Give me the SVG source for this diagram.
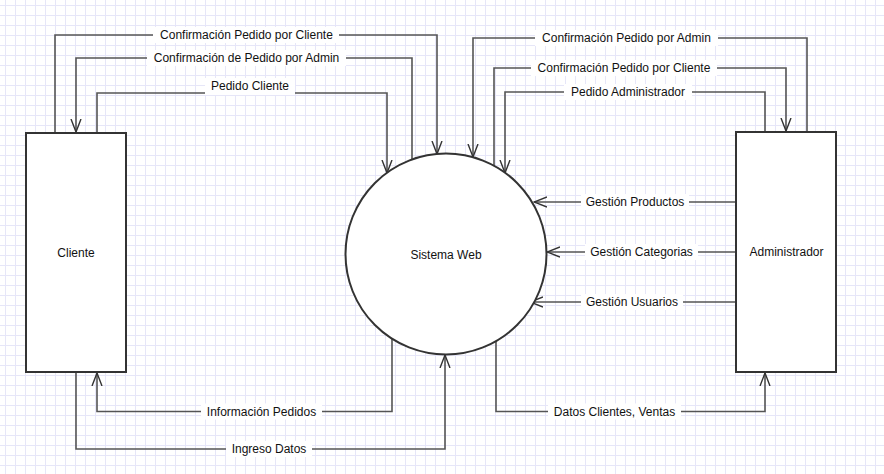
<svg xmlns="http://www.w3.org/2000/svg" width="884" height="474" viewBox="0 0 884 474">
<defs>
<pattern id="grid" width="10" height="10" patternUnits="userSpaceOnUse">
<rect width="10" height="10" fill="#ffffff"/>
<rect x="5" y="0" width="1" height="10" fill="#e6e6f8"/>
<rect x="0" y="5" width="10" height="1" fill="#e6e6f8"/>
</pattern>
<marker id="arr" viewBox="0 0 14 12" refX="13" refY="6" markerWidth="14" markerHeight="12" markerUnits="userSpaceOnUse" orient="auto">
<path d="M0,1 L13,6 L0,11" fill="none" stroke="#333333" stroke-width="1.4"/>
</marker>
<style>
.node{fill:#ffffff;stroke:#333333;stroke-width:2}
.edge{fill:none;stroke:#555555;stroke-width:1.6}
.lbl{font-family:"Liberation Sans",Arial,sans-serif;font-size:12px;fill:#111111;text-anchor:middle}
.bg{fill:#ffffff}
</style>
</defs>
<rect width="884" height="474" fill="url(#grid)"/>

<g id="connectors">
<!-- top left -->
<path class="edge" d="M55,133 V35 H437 V154" marker-end="url(#arr)"/>
<path class="edge" d="M412,160 V58 H76 V132" marker-end="url(#arr)"/>
<path class="edge" d="M97,133 V93 H387 V173" marker-end="url(#arr)"/>
<!-- top right -->
<path class="edge" d="M807,132 V38 H473 V157" marker-end="url(#arr)"/>
<path class="edge" d="M494,166 V68 H786 V131" marker-end="url(#arr)"/>
<path class="edge" d="M765,132 V92 H505 V173" marker-end="url(#arr)"/>
<!-- right middle -->
<path class="edge" d="M736,202 H534" marker-end="url(#arr)"/>
<path class="edge" d="M736,252 H547" marker-end="url(#arr)"/>
<path class="edge" d="M736,302 H530" marker-end="url(#arr)"/>
<!-- bottom -->
<path class="edge" d="M392,338 V411.5 H97 V373" marker-end="url(#arr)"/>
<path class="edge" d="M76,373 V449 H445 V355" marker-end="url(#arr)"/>
<path class="edge" d="M496,340 V411.5 H765 V373" marker-end="url(#arr)"/>

<!-- labels -->
<rect class="bg" x="153" y="27" width="186" height="16"/>
<text class="lbl" x="246.5" y="39">Confirmación Pedido por Cliente</text>
<rect class="bg" x="147" y="50" width="199" height="16"/>
<text class="lbl" x="246.5" y="62">Confirmación de Pedido por Admin</text>
<rect class="bg" x="205" y="78" width="90" height="17"/>
<text class="lbl" x="250" y="90">Pedido Cliente</text>

<rect class="bg" x="535" y="30" width="183" height="16"/>
<text class="lbl" x="626.5" y="42">Confirmación Pedido por Admin</text>
<rect class="bg" x="531" y="60" width="186" height="16"/>
<text class="lbl" x="624" y="72">Confirmación Pedido por Cliente</text>
<rect class="bg" x="564" y="84" width="128" height="16"/>
<text class="lbl" x="628" y="96">Pedido Administrador</text>

<rect class="bg" x="581" y="194" width="108" height="16"/>
<text class="lbl" x="635" y="206">Gestión Productos</text>
<rect class="bg" x="585" y="244" width="113" height="16"/>
<text class="lbl" x="641.5" y="256">Gestión Categorias</text>
<rect class="bg" x="581" y="294" width="102" height="16"/>
<text class="lbl" x="632" y="306">Gestión Usuarios</text>

<rect class="bg" x="201" y="403.5" width="121" height="16"/>
<text class="lbl" x="261.5" y="415.5">Información Pedidos</text>
<rect class="bg" x="226" y="441" width="86" height="16"/>
<text class="lbl" x="269" y="453">Ingreso Datos</text>
<rect class="bg" x="548" y="403.5" width="133" height="16"/>
<text class="lbl" x="614.5" y="415.5">Datos Clientes, Ventas</text>
</g>

<g id="cliente">
<rect class="node" x="26" y="133" width="100" height="239"/>
<text class="lbl" x="76" y="257">Cliente</text>
</g>
<g id="administrador">
<rect class="node" x="736" y="132" width="100" height="240"/>
<text class="lbl" x="786.5" y="256">Administrador</text>
</g>
<g id="sistema-web">
<circle class="node" cx="446" cy="254" r="100.5"/>
<text class="lbl" x="446" y="259">Sistema Web</text>
</g>
</svg>
